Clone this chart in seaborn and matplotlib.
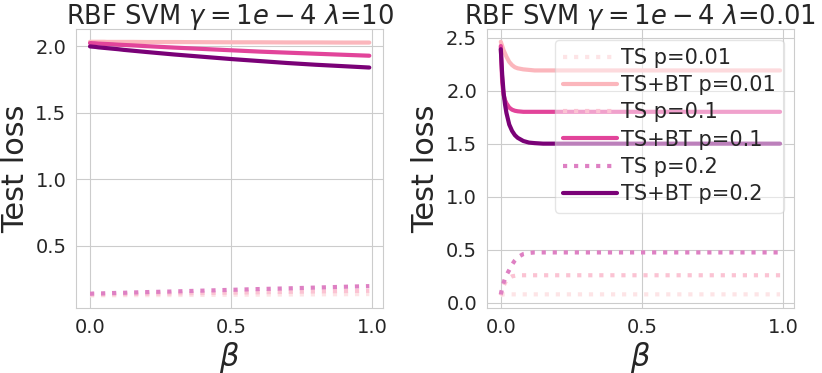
import numpy as np
import matplotlib
matplotlib.use("Agg")
import matplotlib.pyplot as plt
import seaborn as sns

sns.set_style("whitegrid")

# beta values (shared x grid)
beta = [0.0, 0.005, 0.01, 0.015, 0.02, 0.03, 0.04, 0.05, 0.06, 0.08, 0.1, 0.12,
        0.15, 0.2, 0.3, 0.4, 0.5, 0.6, 0.7, 0.8, 0.9, 0.99]

# left panel: lambda = 10
ts01_l = [0.125, 0.125, 0.125, 0.125, 0.125, 0.125, 0.126, 0.126, 0.126, 0.126, 0.126, 0.127,
          0.127, 0.127, 0.128, 0.129, 0.130, 0.131, 0.132, 0.133, 0.134, 0.135]
bt01_l = [2.035, 2.035, 2.035, 2.035, 2.035, 2.035, 2.035, 2.035, 2.034, 2.034, 2.034, 2.034,
          2.034, 2.033, 2.033, 2.032, 2.031, 2.031, 2.030, 2.030, 2.029, 2.029]
ts1_l = [0.132, 0.132, 0.132, 0.132, 0.133, 0.133, 0.133, 0.133, 0.134, 0.134, 0.135, 0.135,
         0.136, 0.138, 0.140, 0.143, 0.146, 0.149, 0.152, 0.155, 0.158, 0.160]
bt1_l = [2.025, 2.025, 2.024, 2.024, 2.023, 2.021, 2.020, 2.019, 2.018, 2.016, 2.013, 2.011,
         2.008, 2.002, 1.991, 1.981, 1.971, 1.961, 1.953, 1.945, 1.937, 1.930]
ts2_l = [0.138, 0.138, 0.139, 0.139, 0.139, 0.140, 0.140, 0.141, 0.141, 0.143, 0.144, 0.145,
         0.147, 0.150, 0.155, 0.161, 0.167, 0.173, 0.178, 0.184, 0.190, 0.195]
bt2_l = [2.000, 1.999, 1.998, 1.997, 1.996, 1.993, 1.991, 1.989, 1.987, 1.983, 1.979, 1.974,
         1.968, 1.958, 1.939, 1.922, 1.905, 1.890, 1.875, 1.862, 1.851, 1.841]

# right panel: lambda = 0.01
ts01_r = [0.07, 0.075, 0.08, 0.08, 0.08, 0.08, 0.08, 0.08, 0.08, 0.08, 0.08, 0.08,
          0.08, 0.08, 0.08, 0.08, 0.08, 0.08, 0.08, 0.08, 0.08, 0.08]
bt01_r = [2.46, 2.42, 2.38, 2.35, 2.32, 2.27, 2.24, 2.22, 2.21, 2.20, 2.195, 2.19,
          2.19, 2.19, 2.19, 2.19, 2.19, 2.19, 2.19, 2.19, 2.19, 2.19]
ts1_r = [0.07, 0.12, 0.16, 0.19, 0.21, 0.235, 0.25, 0.255, 0.26, 0.26, 0.26, 0.26,
         0.26, 0.26, 0.26, 0.26, 0.26, 0.26, 0.26, 0.26, 0.26, 0.26]
bt1_r = [2.42, 2.08, 1.96, 1.91, 1.88, 1.84, 1.82, 1.81, 1.805, 1.80, 1.80, 1.80,
         1.80, 1.80, 1.80, 1.80, 1.80, 1.80, 1.80, 1.80, 1.80, 1.80]
ts2_r = [0.08, 0.14, 0.19, 0.23, 0.26, 0.31, 0.36, 0.40, 0.43, 0.46, 0.47, 0.475,
         0.475, 0.475, 0.475, 0.475, 0.475, 0.475, 0.475, 0.475, 0.475, 0.475]
bt2_r = [2.39, 2.15, 1.98, 1.87, 1.79, 1.68, 1.62, 1.58, 1.555, 1.525, 1.51, 1.505,
         1.50, 1.50, 1.50, 1.50, 1.50, 1.50, 1.50, 1.50, 1.50, 1.50]

labels = ["TS p=0.01", "TS+BT p=0.01", "TS p=0.1", "TS+BT p=0.1", "TS p=0.2", "TS+BT p=0.2"]
colors = ["#fde4e6", "#fbb6bc", "#fbc3d3", "#e2449a", "#de80c3", "#7a0177"]
styles = [":", "-", ":", "-", ":", "-"]

left = [ts01_l, bt01_l, ts1_l, bt1_l, ts2_l, bt2_l]
right = [ts01_r, bt01_r, ts1_r, bt1_r, ts2_r, bt2_r]

fig, axes = plt.subplots(1, 2, figsize=(8.22, 3.73), dpi=100)
plt.subplots_adjust(left=0.0925, right=0.966, bottom=0.174, top=0.922, wspace=0.337)

for ax, data, title, show_leg in [
        (axes[0], left, r"RBF SVM $\gamma=1e-4$ $\lambda$=10", False),
        (axes[1], right, r"RBF SVM $\gamma=1e-4$ $\lambda$=0.01", True)]:
    for vals, lab, c, ls in zip(data, labels, colors, styles):
        sns.lineplot(x=beta, y=vals, ax=ax, color=c, linestyle=ls, lw=3,
                     label=lab if show_leg else None)
    ax.set_title(title, fontsize=18.5, pad=4)
    ax.set_xlabel(r"$\beta$", fontsize=22, labelpad=2)
    ax.set_ylabel("Test loss", fontsize=22, labelpad=4)
    ax.tick_params(labelsize=14)
    ax.set_xticks([0.0, 0.5, 1.0])

axes[0].set_yticks([0.5, 1.0, 1.5, 2.0])
axes[1].set_yticks([0.0, 0.5, 1.0, 1.5, 2.0, 2.5])
axes[1].legend(loc="upper right", fontsize=15, handlelength=2.6,
               borderpad=0.4, labelspacing=0.35, handletextpad=0.15, framealpha=0.5)

plt.savefig("out.png", dpi=100)
